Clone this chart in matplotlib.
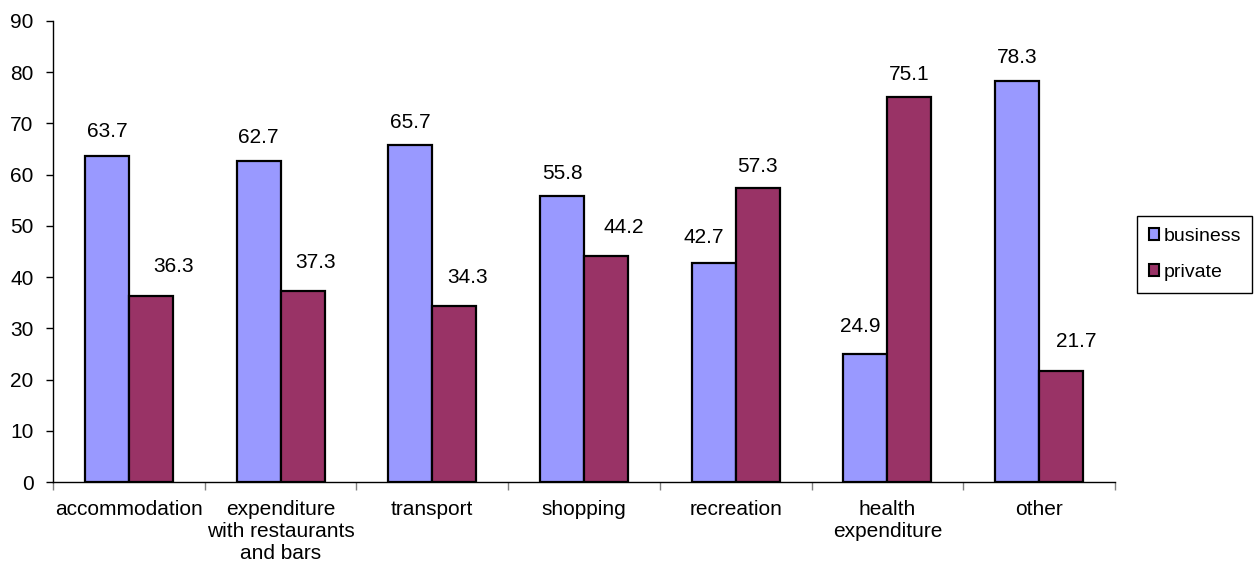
import numpy as np
import matplotlib.pyplot as plt
from matplotlib.patches import Patch

categories = ['accommodation', 'expenditure\nwith restaurants\nand bars', 'transport',
              'shopping', 'recreation', 'health\nexpenditure', 'other']
business = [63.7, 62.7, 65.7, 55.8, 42.7, 24.9, 78.3]
private = [36.3, 37.3, 34.3, 44.2, 57.3, 75.1, 21.7]

# label offsets in pixels (Excel labels were moved by hand)
business_dx = [0, 0, 0, 0, -10, -5, 0]
private_dx = [23, 13, 13, 18, 0, 0, 15]
business_dy = [24, 23, 23, 23, 26, 28, 23]
private_dy = [30, 28, 29, 28, 22, 23, 29]

plt.rcParams['font.family'] = ['Liberation Sans', 'DejaVu Sans']

fig = plt.figure(figsize=(12.54, 5.64), dpi=100)
ax = fig.add_axes([53 / 1254, 1 - 482 / 564, (1115 - 53) / 1254, (482 - 21) / 564])

x = np.arange(len(categories))
w = 0.29
b1 = ax.bar(x - w / 2, business, w, color='#9999FF', edgecolor='black', linewidth=1.6, label='business')
b2 = ax.bar(x + w / 2, private, w, color='#993366', edgecolor='black', linewidth=1.6, label='private')

for i in range(len(x)):
    ax.annotate('{:.1f}'.format(business[i]), (x[i] - w / 2, business[i]),
                xytext=(business_dx[i], business_dy[i]), textcoords='offset pixels',
                ha='center', va='center', fontsize=15)
    ax.annotate('{:.1f}'.format(private[i]), (x[i] + w / 2, private[i]),
                xytext=(private_dx[i], private_dy[i]), textcoords='offset pixels',
                ha='center', va='center', fontsize=15)

ax.set_xlim(-0.5, len(categories) - 0.5)
ax.set_ylim(0, 90)
ax.set_yticks(np.arange(0, 91, 10))
ax.set_xticks(x)
ax.set_xticklabels(categories, fontsize=15, linespacing=1.2)
ax.set_xticks(np.arange(len(categories) + 1) - 0.5, minor=True)
ax.tick_params(axis='x', which='major', length=0, pad=13)
ax.tick_params(axis='x', which='minor', length=6, width=1, color='#808080')
ax.tick_params(axis='y', length=5, width=1, labelsize=15, pad=9)

for s in ['top', 'right']:
    ax.spines[s].set_visible(False)
for s in ['left', 'bottom']:
    ax.spines[s].set_linewidth(1)

handles = [Patch(facecolor='#9999FF', edgecolor='black', linewidth=1.5),
           Patch(facecolor='#993366', edgecolor='black', linewidth=1.5)]
leg = fig.legend(handles, ['business', 'private'], loc='upper left',
                 bbox_to_anchor=(1137 / 1254, 1 - 216 / 564), fontsize=14,
                 frameon=True, fancybox=False, edgecolor='black', framealpha=1,
                 handlelength=0.55, handleheight=0.55, handletextpad=0.2,
                 labelspacing=1.0, borderpad=0.6, borderaxespad=0)
leg.get_frame().set_linewidth(1)

fig.savefig('out.png', dpi=100)
